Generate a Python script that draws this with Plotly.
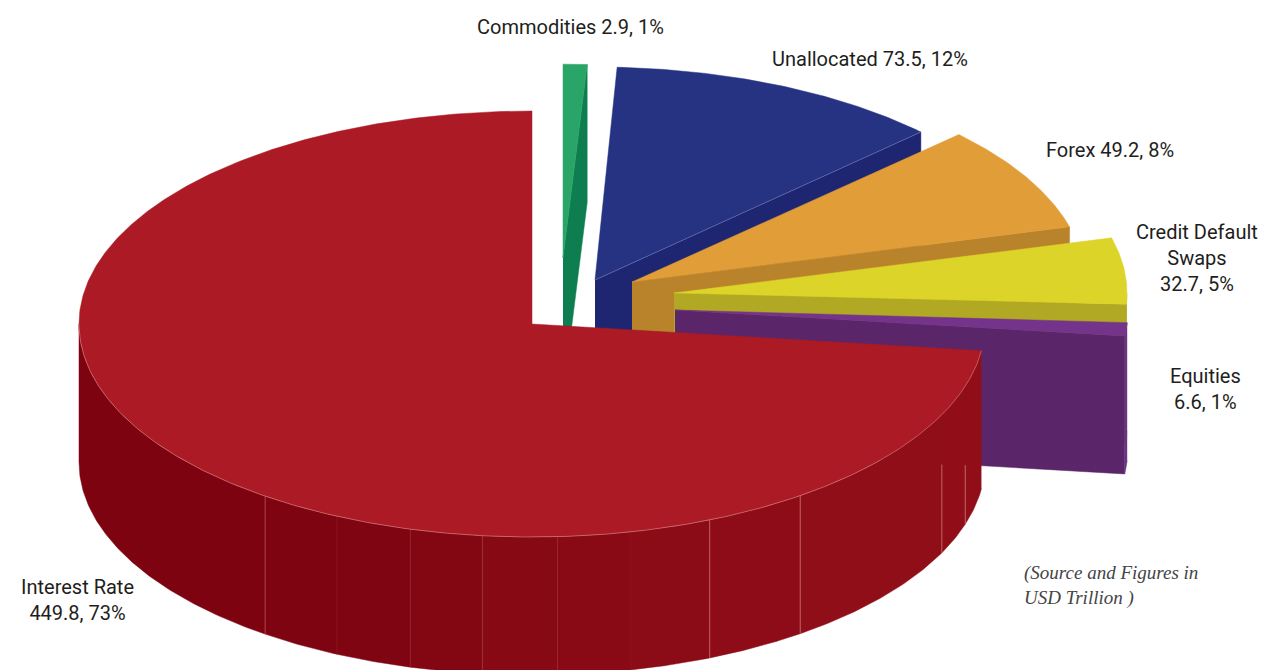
import numpy as np
import plotly.graph_objects as go

# Notional outstanding by asset class, clockwise from twelve o'clock
categories = ["Commodities", "Unallocated", "Forex", "Credit Default Swaps", "Equities", "Interest Rate"]
values = [2.9, 73.5, 49.2, 32.7, 6.6, 449.8]
shares = [1, 12, 8, 5, 1, 73]

WIDTH, HEIGHT = 1261, 670
RX, RY, DEPTH = 453.0, 213.0, 138.0

# Per-slice drawing style: explosion point, radius scale, fan rotation, colours
apex = [(563, 258), (595, 280), (632, 282), (674, 293), (675, 310), (532, 324)]
scale_x = [0.85, 1, 1, 1, 1, 1]
scale_y = [0.91, 1, 1, 1, 1, 1]
rotation = [0, -0.8, -0.6, -0.6, -0.2, 0]
top_colors = ["#2AA568", "#253382", "#E19D37", "#DDD429", "#75348B", "#AB1A25"]
side_colors = ["#0E7E50", "#1F2671", "#B8832B", "#B1A823", "#5B2669", "#8A0B16"]
wall_colors = ["#0E7E50", "#1F2671", "#B8832B", "#B1A823", "#6D3184", "#8A0B16"]

# Shaded facets around the front wall of the large slice
facet_breaks = [97.2, 107, 115.2, 143.7, 156.9, 167.5, 176.8, 186.3, 195.6, 205.5, 216.1, 270]
facet_colors = ["#910E19", "#910E19", "#900E18", "#8D0C17", "#8B0B16", "#890A15",
                "#860914", "#830713", "#800512", "#7F0412", "#7D0311"]
# Seam: angle, colour, how far below the top rim it starts
seams = [(107, "rgba(225,150,150,.55)", 79), (115.2, "rgba(225,150,150,.55)", 50),
         (143.7, "rgba(225,150,150,.55)", 0), (156.9, "rgba(225,150,150,.5)", 0),
         (186.3, "rgba(190,70,80,.3)", 0), (195.6, "rgba(170,50,60,.25)", 0),
         (205.5, "rgba(170,50,60,.25)", 0), (216.1, "rgba(220,130,135,.45)", 0)]

fig = go.Figure()


def polygon(xs, ys, color):
    fig.add_trace(go.Scatter(x=xs, y=ys, mode="lines", fill="toself", fillcolor=color,
                             line=dict(color=color, width=0.5), hoverinfo="skip", showlegend=False))


def stroke(xs, ys, color, width=0.8):
    fig.add_trace(go.Scatter(x=xs, y=ys, mode="lines", line=dict(color=color, width=width),
                             hoverinfo="skip", showlegend=False))


def rim(i, a0, a1):
    angle = np.radians(np.linspace(a0, a1, max(int(abs(a1 - a0) * 2), 2) + 1))
    return (apex[i][0] + RX * scale_x[i] * np.sin(angle),
            apex[i][1] - RY * scale_y[i] * np.cos(angle))


def wall(i, a0, a1, color):
    x, y = rim(i, a0, a1)
    polygon(np.r_[x, x[::-1]], np.r_[y, y[::-1] + DEPTH], color)


# Slices are painted back to front, so each covers the depth of the one before it
start = 0.0
for i, share in enumerate(shares):
    a0 = start + rotation[i]
    a1 = start + share * 3.6 + rotation[i]
    start += share * 3.6
    ax, ay = apex[i]

    # Cut face along the clockwise edge of the exploded slices
    if i < len(shares) - 1:
        ex, ey = rim(i, a1, a1)
        polygon([ax, ex[0], ex[0], ax], [ay, ey[0], ey[0] + DEPTH, ay + DEPTH], side_colors[i])

    # Outer wall, only where it faces the viewer
    w0, w1 = max(a0, 90), min(a1, 270)
    if w1 > w0:
        if i == len(shares) - 1:
            for j, c in enumerate(facet_colors):
                wall(i, facet_breaks[j], facet_breaks[j + 1], c)
            for ang, c, drop in seams:
                sx, sy = rim(i, ang, ang)
                stroke([sx[0], sx[0]], [sy[0] + drop, sy[0] + DEPTH], c, 1)
        else:
            wall(i, w0, w1, wall_colors[i])

    # Top face
    x, y = rim(i, a0, a1)
    polygon(np.r_[ax, x, ax], np.r_[ay, y, ay], top_colors[i])

    # Pale highlight on the upper edges
    if i == 1:
        ex, ey = rim(i, a1, a1)
        stroke([ax, ex[0]], [ay, ey[0]], "rgba(190,195,230,.45)", 0.7)
    if i == len(shares) - 1:
        rx_, ry_ = rim(i, a0, 270)
        stroke(rx_, ry_, "rgba(250,195,195,.55)", 0.7)

# Text labels, built from the same numbers as the slices
label_font = dict(family="Roboto, Liberation Sans, sans-serif", size=20, weight=400, color="#1E1E20")
label_text = [
    f"{categories[0]} {values[0]}, {shares[0]}%",
    f"{categories[1]} {values[1]}, {shares[1]}%",
    f"{categories[2]} {values[2]}, {shares[2]}%",
    f"Credit Default<br>Swaps<br>{values[3]}, {shares[3]}%",
    f"{categories[4]}<br>{values[4]}, {shares[4]}%",
    f"{categories[5]}<br>{values[5]}, {shares[5]}%",
]
label_pos = [(570, 27), (870, 59), (1110, 150), (1197, 258), (1205, 389), (77, 600)]
for text, (lx, ly) in zip(label_text, label_pos):
    fig.add_annotation(x=lx, y=ly, text=text, showarrow=False, xanchor="center", yanchor="middle",
                       align="center", font=label_font)

fig.add_annotation(x=1022, y=585, text="<i>(Source and Figures in<br>USD Trillion )</i>", showarrow=False,
                   xanchor="left", yanchor="middle", align="left",
                   font=dict(family="Liberation Serif, serif", size=19, color="#444446"))

axis = dict(visible=False, fixedrange=True)
fig.update_layout(
    width=WIDTH, height=HEIGHT, margin=dict(l=0, r=0, t=0, b=0),
    paper_bgcolor="white", plot_bgcolor="white", showlegend=False,
    xaxis=dict(range=[0, WIDTH], **axis),
    yaxis=dict(range=[HEIGHT, 0], **axis),
)
fig.write_html("out.html", config=dict(displayModeBar=False))
